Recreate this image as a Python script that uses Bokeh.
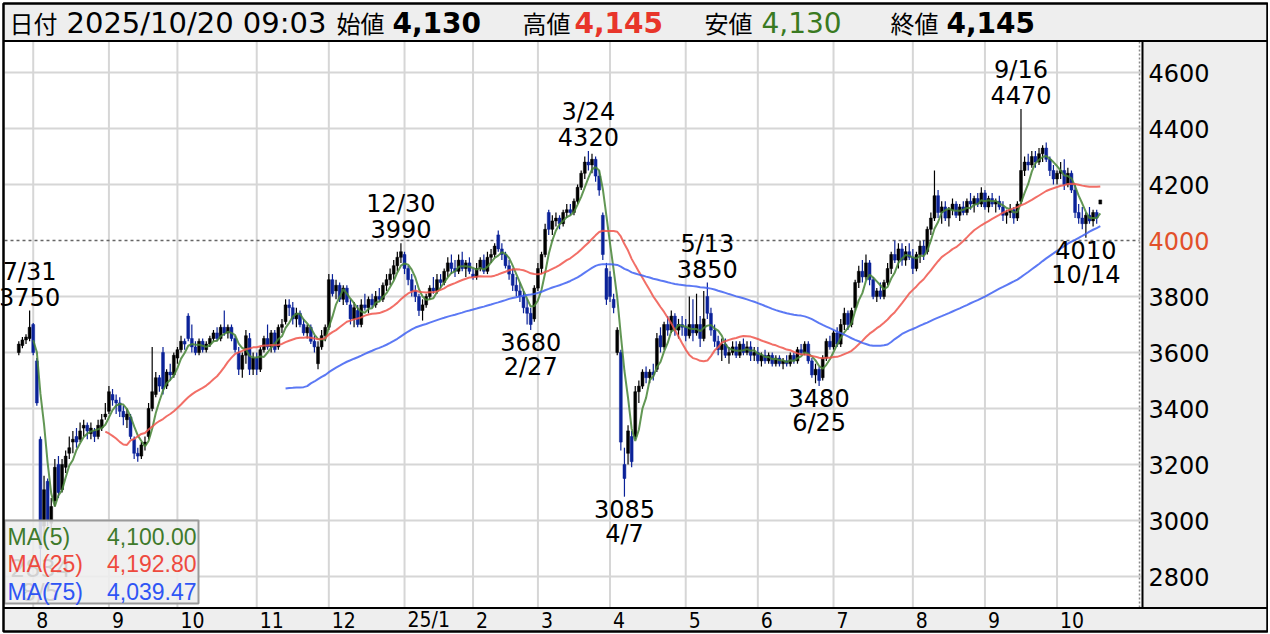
import pandas as pd
from bokeh.plotting import figure
from bokeh.models import Range1d, ColumnDataSource
from bokeh.core.properties import value
from bokeh.embed import file_html
from bokeh.resources import INLINE

# ---------------- data ----------------
START, END = "2024-07-26", "2025-10-20"
HOLIDAYS = ["2024-08-12", "2024-09-16", "2024-09-23", "2024-10-14", "2024-11-04",
            "2024-12-31", "2025-01-01", "2025-01-02", "2025-01-03", "2025-01-13",
            "2025-02-11", "2025-02-24", "2025-03-20", "2025-04-29", "2025-05-05",
            "2025-05-06", "2025-07-21", "2025-08-11", "2025-09-15", "2025-09-23",
            "2025-10-13"]

OPEN = [
    3600, 3625, 3645, 3650, 3700, 3570, 3290, 2980, 3140, 2990,
    3070, 3200, 3110, 3190, 3240, 3280, 3300, 3290, 3330, 3340,
    3310, 3320, 3300, 3330, 3370, 3390, 3450, 3430, 3420, 3390,
    3360, 3370, 3290, 3240, 3230, 3270, 3300, 3400, 3450, 3510,
    3600, 3480, 3530, 3520, 3580, 3610, 3640, 3730, 3650, 3620,
    3600, 3640, 3610, 3630, 3650, 3670, 3650, 3690, 3670, 3690,
    3650, 3600, 3540, 3590, 3650, 3540, 3580, 3540, 3610, 3650,
    3620, 3670, 3620, 3690, 3710, 3770, 3760, 3720, 3740, 3700,
    3670, 3690, 3640, 3560, 3620, 3660, 3690, 3860, 3820, 3840,
    3790, 3830, 3770, 3720, 3750, 3700, 3770, 3760, 3790, 3770,
    3800, 3790, 3840, 3860, 3880, 3910, 3940, 3950, 3900, 3860,
    3820, 3800, 3750, 3770, 3800, 3830, 3820, 3860, 3850, 3890,
    3920, 3900, 3890, 3930, 3900, 3920, 3880, 3870, 3900, 3930,
    3890, 3940, 3950, 4020, 3970, 3950, 3910, 3880, 3840, 3820,
    3800, 3760, 3740, 3720, 3830, 3900, 3950, 4100, 4040, 4070,
    4080, 4060, 4100, 4110, 4100, 4140, 4190, 4240, 4280, 4270,
    4290, 4230, 4090, 3900, 3870, 3790, 3600, 3600, 3200, 3240,
    3300, 3300, 3460, 3480, 3530, 3510, 3530, 3540, 3660, 3620,
    3700, 3680, 3730, 3680, 3700, 3690, 3660, 3700, 3670, 3700,
    3650, 3800, 3740, 3680, 3640, 3610, 3630, 3590, 3600, 3620,
    3590, 3630, 3600, 3620, 3590, 3600, 3570, 3590, 3570, 3590,
    3560, 3580, 3560, 3570, 3560, 3590, 3570, 3610, 3600, 3630,
    3570, 3520, 3540, 3510, 3580, 3640, 3620, 3670, 3630, 3700,
    3740, 3700, 3760, 3850, 3890, 3870, 3920, 3860, 3800, 3820,
    3800, 3850, 3900, 3950, 3930, 3970, 3930, 3960, 3940, 3900,
    3950, 3980, 3960, 4040, 4080, 4160, 4100, 4120, 4080, 4110,
    4130, 4090, 4120, 4100, 4140, 4130, 4150, 4130, 4170, 4120,
    4150, 4130, 4140, 4120, 4090, 4100, 4110, 4080, 4140, 4250,
    4280, 4270, 4300, 4280, 4310, 4330, 4290, 4250, 4220, 4240,
    4250, 4200, 4240, 4180, 4100, 4080, 4060, 4090, 4070, 4100,
    4130]
HIGH = [
    3640, 3655, 3665, 3750, 3705, 3580, 3300, 3160, 3150, 3080,
    3220, 3230, 3220, 3250, 3300, 3320, 3330, 3350, 3360, 3350,
    3350, 3330, 3360, 3380, 3420, 3480, 3470, 3450, 3440, 3410,
    3400, 3380, 3300, 3260, 3280, 3300, 3420, 3620, 3530, 3520,
    3620, 3540, 3560, 3600, 3620, 3660, 3650, 3740, 3700, 3640,
    3650, 3650, 3640, 3660, 3680, 3690, 3700, 3750, 3700, 3700,
    3660, 3620, 3600, 3680, 3670, 3600, 3600, 3620, 3660, 3700,
    3680, 3680, 3700, 3720, 3790, 3790, 3780, 3760, 3750, 3720,
    3700, 3700, 3660, 3640, 3680, 3700, 3880, 3880, 3860, 3850,
    3840, 3840, 3790, 3780, 3770, 3790, 3810, 3800, 3810, 3820,
    3830, 3850, 3880, 3900, 3930, 3960, 3990, 3960, 3910, 3880,
    3840, 3810, 3790, 3810, 3840, 3870, 3880, 3880, 3900, 3940,
    3950, 3930, 3950, 3960, 3930, 3940, 3900, 3920, 3940, 3950,
    3960, 3970, 3990, 4036, 3990, 3960, 3930, 3900, 3870, 3850,
    3820, 3790, 3760, 3840, 3920, 3960, 4060, 4110, 4090, 4100,
    4090, 4110, 4130, 4130, 4150, 4200, 4250, 4300, 4320, 4310,
    4300, 4250, 4100, 3920, 3890, 3810, 3690, 3610, 3260, 3340,
    3320, 3480, 3500, 3540, 3550, 3540, 3560, 3670, 3690, 3710,
    3730, 3750, 3740, 3720, 3730, 3720, 3800, 3790, 3810, 3730,
    3820, 3850, 3760, 3700, 3660, 3650, 3650, 3620, 3640, 3640,
    3640, 3650, 3640, 3640, 3620, 3620, 3600, 3610, 3600, 3600,
    3590, 3590, 3580, 3590, 3600, 3600, 3620, 3630, 3640, 3640,
    3580, 3560, 3550, 3590, 3650, 3660, 3680, 3690, 3720, 3760,
    3750, 3760, 3860, 3910, 3930, 3950, 3930, 3870, 3830, 3850,
    3860, 3920, 3960, 4000, 3990, 3990, 3980, 3990, 3970, 3960,
    4000, 4000, 4050, 4100, 4250, 4180, 4140, 4140, 4120, 4150,
    4140, 4130, 4140, 4150, 4170, 4160, 4170, 4190, 4180, 4160,
    4170, 4150, 4160, 4140, 4110, 4130, 4120, 4140, 4470, 4300,
    4310, 4320, 4320, 4330, 4340, 4350, 4300, 4270, 4250, 4280,
    4290, 4260, 4250, 4200, 4130, 4120, 4100, 4120, 4110, 4110,
    4145]
LOW = [
    3590, 3615, 3630, 3640, 3590, 3410, 2834, 2950, 2980, 2960,
    3050, 3080, 3100, 3170, 3220, 3240, 3260, 3280, 3300, 3290,
    3290, 3280, 3290, 3320, 3360, 3380, 3410, 3380, 3370, 3340,
    3330, 3290, 3220, 3210, 3220, 3250, 3290, 3390, 3440, 3460,
    3450, 3470, 3500, 3510, 3560, 3600, 3610, 3640, 3600, 3590,
    3590, 3600, 3600, 3620, 3640, 3640, 3640, 3660, 3650, 3640,
    3600, 3520, 3510, 3560, 3520, 3520, 3520, 3530, 3600, 3610,
    3600, 3600, 3610, 3670, 3700, 3730, 3700, 3690, 3690, 3660,
    3650, 3630, 3600, 3540, 3610, 3640, 3680, 3800, 3790, 3780,
    3770, 3770, 3700, 3690, 3690, 3690, 3750, 3740, 3760, 3760,
    3780, 3780, 3820, 3840, 3860, 3890, 3920, 3880, 3840, 3800,
    3780, 3730, 3714, 3760, 3790, 3810, 3810, 3830, 3840, 3870,
    3880, 3870, 3880, 3890, 3870, 3880, 3860, 3860, 3890, 3880,
    3880, 3920, 3940, 3960, 3930, 3900, 3860, 3820, 3800, 3780,
    3740, 3700, 3680, 3710, 3820, 3880, 3940, 4020, 4020, 4050,
    4040, 4050, 4080, 4090, 4090, 4130, 4180, 4220, 4250, 4240,
    4210, 4160, 3930, 3770, 3780, 3740, 3590, 3250, 3085, 3200,
    3190, 3290, 3420, 3470, 3490, 3490, 3500, 3530, 3600, 3610,
    3660, 3670, 3660, 3650, 3660, 3640, 3650, 3640, 3660, 3620,
    3640, 3720, 3660, 3620, 3590, 3570, 3580, 3560, 3590, 3580,
    3580, 3590, 3590, 3570, 3570, 3560, 3550, 3560, 3560, 3550,
    3550, 3550, 3540, 3550, 3550, 3560, 3560, 3590, 3590, 3560,
    3510, 3490, 3480, 3500, 3570, 3610, 3610, 3620, 3620, 3680,
    3680, 3690, 3750, 3830, 3850, 3860, 3840, 3790, 3780, 3790,
    3790, 3840, 3880, 3920, 3900, 3910, 3910, 3930, 3880, 3890,
    3920, 3930, 3950, 4020, 4070, 4080, 4060, 4070, 4050, 4090,
    4080, 4070, 4090, 4090, 4110, 4100, 4120, 4120, 4110, 4100,
    4120, 4100, 4110, 4070, 4060, 4080, 4060, 4070, 4130, 4230,
    4250, 4260, 4260, 4270, 4280, 4280, 4230, 4200, 4200, 4220,
    4180, 4190, 4170, 4080, 4060, 4040, 4010, 4060, 4050, 4060,
    4130]
CLOSE = [
    3630, 3645, 3655, 3690, 3600, 3420, 2900, 3110, 3000, 3050,
    3190, 3100, 3200, 3230, 3260, 3290, 3280, 3320, 3340, 3320,
    3330, 3300, 3340, 3360, 3380, 3460, 3430, 3420, 3390, 3370,
    3380, 3300, 3240, 3230, 3270, 3280, 3400, 3460, 3510, 3480,
    3470, 3530, 3520, 3590, 3610, 3640, 3630, 3650, 3620, 3600,
    3640, 3610, 3630, 3650, 3670, 3650, 3690, 3670, 3690, 3650,
    3610, 3540, 3590, 3660, 3540, 3580, 3540, 3610, 3650, 3620,
    3670, 3610, 3690, 3700, 3770, 3760, 3720, 3740, 3700, 3670,
    3690, 3640, 3620, 3620, 3660, 3690, 3860, 3810, 3840, 3790,
    3830, 3780, 3720, 3760, 3700, 3770, 3760, 3790, 3770, 3800,
    3790, 3840, 3860, 3880, 3910, 3940, 3960, 3900, 3860, 3820,
    3800, 3750, 3770, 3800, 3830, 3820, 3860, 3850, 3890, 3920,
    3900, 3890, 3930, 3900, 3920, 3890, 3870, 3900, 3930, 3890,
    3940, 3950, 3980, 3970, 3950, 3910, 3880, 3840, 3820, 3800,
    3760, 3740, 3700, 3830, 3900, 3950, 4040, 4040, 4070, 4080,
    4060, 4100, 4110, 4100, 4140, 4190, 4240, 4280, 4270, 4290,
    4230, 4180, 3950, 3790, 3800, 3760, 3680, 3280, 3150, 3320,
    3210, 3460, 3480, 3530, 3510, 3530, 3520, 3650, 3620, 3700,
    3680, 3730, 3680, 3700, 3690, 3660, 3700, 3670, 3700, 3650,
    3720, 3740, 3680, 3640, 3610, 3630, 3590, 3600, 3620, 3590,
    3630, 3600, 3620, 3590, 3600, 3570, 3590, 3570, 3590, 3560,
    3580, 3560, 3570, 3560, 3590, 3570, 3610, 3600, 3630, 3570,
    3520, 3540, 3500, 3580, 3640, 3620, 3670, 3630, 3700, 3740,
    3700, 3750, 3850, 3890, 3870, 3920, 3860, 3800, 3820, 3800,
    3850, 3900, 3950, 3930, 3970, 3930, 3960, 3940, 3900, 3950,
    3980, 3950, 4040, 4080, 4160, 4100, 4120, 4080, 4110, 4130,
    4090, 4120, 4100, 4140, 4130, 4150, 4130, 4170, 4120, 4150,
    4130, 4140, 4120, 4090, 4100, 4110, 4080, 4130, 4250, 4280,
    4270, 4300, 4280, 4310, 4330, 4290, 4250, 4220, 4240, 4250,
    4200, 4240, 4180, 4100, 4080, 4060, 4090, 4070, 4100, 4080,
    4145]

MONTH_LABELS = ["8", "9", "10", "11", "12", "25/1", "2", "3", "4", "5", "6", "7", "8", "9", "10"]
Y_TICKS = [2800, 3000, 3200, 3400, 3600, 3800, 4000, 4200, 4400, 4600]
REF_PRICE = 4000
HIGH_MARK_DATES = ["2024-07-31", "2024-12-30", "2025-03-24", "2025-05-13", "2025-09-16"]
HIGH_MARK_VALUES = [3750, 3990, 4320, 3850, 4470]
LOW_MARK_DATES = ["2024-08-05", "2025-02-27", "2025-04-07", "2025-06-25", "2025-10-14"]
LOW_MARK_VALUES = [2834, 3680, 3085, 3480, 4010]
MA_PERIODS = [5, 25, 75]
MA_LEGEND_VALUES = ["4,100.00", "4,192.80", "4,039.47"]
HEADER_DATE = "2025/10/20 09:03"
HEADER_NAMES = ["始値", "高値", "安値", "終値"]
HEADER_OHLC = ["4,130", "4,145", "4,130", "4,145"]

# ---------------- derived ----------------
dates = [d for d in pd.bdate_range(START, END) if d.strftime("%Y-%m-%d") not in HOLIDAYS]
n = len(dates)
assert n == len(OPEN) == len(HIGH) == len(LOW) == len(CLOSE), (n, len(OPEN), len(HIGH), len(LOW), len(CLOSE))
date_idx = {d.strftime("%Y-%m-%d"): i for i, d in enumerate(dates)}
month_starts = [i for i in range(1, n) if dates[i].month != dates[i - 1].month]

UP, DOWN = "#000000", "#0b2299"
idx = list(range(n))
colors = [UP if c >= o else DOWN for o, c in zip(OPEN, CLOSE)]
src = ColumnDataSource(dict(
    x=idx, h=HIGH, l=LOW, col=colors,
    top=[max(o, c) for o, c in zip(OPEN, CLOSE)],
    bot=[min(o, c) for o, c in zip(OPEN, CLOSE)],
))
close_s = pd.Series(CLOSE, dtype=float)
ma = {per: close_s.rolling(per).mean() for per in MA_PERIODS}

# ---------------- layout: page pixels -> data ----------------
W, H = 1268, 633
X0, DXP = 18.3, 3.605                   # first candle centre (px), px per candle
YREF_PX, PXU = 240, 0.28                # y of REF_PRICE, px per price unit
BL, BR, BT, BB = 3, 1267, 3, 631        # outer box
PL, PR, PT, PB = 4, 1141, 41, 607       # price panel


def dx(px):
    return (px - X0) / DXP


def dy(py):
    return REF_PRICE + (YREF_PX - py) / PXU


def py_of(v):
    return YREF_PX - (v - REF_PRICE) * PXU


p = figure(width=W, height=H, x_range=Range1d(dx(0), dx(W)), y_range=Range1d(dy(H), dy(0)),
           x_axis_location=None, y_axis_location=None, output_backend="svg",
           toolbar_location=None, min_border=0, background_fill_color="white",
           border_fill_color="white", outline_line_color=None, title=None)
p.xgrid.visible = False
p.ygrid.visible = False

# panels
p.quad(left=[dx(BL)], right=[dx(BR)], top=[dy(BT)], bottom=[dy(BB)],
       fill_color="#eeeeee", line_color=None)
p.quad(left=[dx(PL)], right=[dx(PR)], top=[dy(PT)], bottom=[dy(PB)],
       fill_color="white", line_color=None)

# grid lines
GRID = "#d6d6d6"
p.segment(x0=month_starts, x1=month_starts, y0=[dy(PT)] * len(month_starts),
          y1=[dy(PB)] * len(month_starts), line_color=GRID, line_width=2)
gy = [t for t in Y_TICKS if t != REF_PRICE]
p.segment(x0=[dx(PL)] * len(gy), x1=[dx(PR)] * len(gy), y0=gy, y1=gy,
          line_color=GRID, line_width=2)

# reference lines
p.segment(x0=[dx(PL)], x1=[dx(1139)], y0=[REF_PRICE], y1=[REF_PRICE],
          line_color="#666666", line_dash="3 3", line_width=1.5)
p.segment(x0=[dx(1139)], x1=[dx(1139)], y0=[dy(PT)], y1=[dy(PB)],
          line_color="#888888", line_dash="2 2", line_width=1.5)

# candles
p.segment(x0="x", y0="h", x1="x", y1="l", color="col", line_width=1.2, source=src)
p.vbar(x="x", width=0.8, top="top", bottom="bot", fill_color="col", line_color="col",
       line_width=0.5, source=src)

# moving averages
ma_colors = ["#468536", "#f0564c", "#3f62f2"]
for per, colr in zip(MA_PERIODS, ma_colors):
    p.line(idx, ma[per].tolist(), line_color=colr, line_width=2, line_alpha=0.85)

# high / low annotations (low labels are kept inside the price panel)
TF = value("DejaVu Sans")


def md(d):
    return f"{int(d[5:7])}/{int(d[8:10])}"


def lab(xs, ys, texts, offs):
    p.text(xs, ys, text=texts, y_offset=offs, text_align="center", text_baseline="middle",
           text_font=TF, text_font_size="24px", text_color="black")


hx = [date_idx[d] for d in HIGH_MARK_DATES]
lab(hx, HIGH_MARK_VALUES, [str(v) for v in HIGH_MARK_VALUES], [-14] * len(hx))
lab(hx, HIGH_MARK_VALUES, [md(d) for d in HIGH_MARK_DATES], [-39] * len(hx))
lx = [date_idx[d] for d in LOW_MARK_DATES]
date_off = [min(37, (PB - 15) - py_of(v)) for v in LOW_MARK_VALUES]
lab(lx, LOW_MARK_VALUES, [str(v) for v in LOW_MARK_VALUES], [o - 25 for o in date_off])
lab(lx, LOW_MARK_VALUES, [md(d) for d in LOW_MARK_DATES], date_off)

# MA legend box
p.quad(left=[dx(PL)], right=[dx(198)], top=[dy(520)], bottom=[dy(603)],
       fill_color="#eeeeee", fill_alpha=0.88, line_color="#9a9a9a", line_width=2)
leg_y = [536, 563, 591]
leg_colors = ["#3f7a2c", "#ee4a3e", "#2f55f5"]
LF = value("Liberation Sans")
p.text([dx(7)] * 3, [dy(v) for v in leg_y], text=[f"MA({per})" for per in MA_PERIODS],
       text_color=leg_colors, text_font=LF, text_font_size="23px",
       text_baseline="middle", text_align="left")
p.text([dx(196)] * 3, [dy(v) for v in leg_y], text=MA_LEGEND_VALUES,
       text_color=leg_colors, text_font=LF, text_font_size="23px",
       text_baseline="middle", text_align="right")

# frame lines
p.segment(x0=[dx(BL), dx(BL), dx(1142)], x1=[dx(BR), dx(BR), dx(1142)],
          y0=[dy(40.5), dy(607.5), dy(PT)], y1=[dy(40.5), dy(607.5), dy(PB)],
          line_color="black", line_width=2)
p.quad(left=[dx(BL)], right=[dx(BR)], top=[dy(BT)], bottom=[dy(BB)],
       fill_color=None, line_color="black", line_width=2.5)

# price axis labels (right)
p.text([dx(1148)] * len(Y_TICKS), Y_TICKS, text=[str(t) for t in Y_TICKS],
       text_color=["#e2502a" if t == REF_PRICE else "black" for t in Y_TICKS],
       text_font=TF, text_font_size="24px", text_baseline="middle", text_align="left")

# month axis labels (below), left-aligned just right of the month gridline
p.text([m + 3 / DXP for m in month_starts], [dy(619)] * len(month_starts), text=MONTH_LABELS,
       text_color="black", text_font=value("DejaVu Sans Condensed, Roboto, sans-serif"),
       text_font_size="21px", text_baseline="middle", text_align="left")

# header
JP = value("Noto Sans CJK JP")
header = [
    ("日付", 9, "black", JP, "24px", "normal"),
    (HEADER_DATE, 66, "black", TF, "29px", "normal"),
    (HEADER_NAMES[0], 336, "black", JP, "24px", "normal"),
    (HEADER_OHLC[0], 392, "black", TF, "28px", "bold"),
    (HEADER_NAMES[1], 522, "black", JP, "24px", "normal"),
    (HEADER_OHLC[1], 574, "#e8352a", TF, "28px", "bold"),
    (HEADER_NAMES[2], 704, "black", JP, "24px", "normal"),
    (HEADER_OHLC[2], 761, "#3a7a22", TF, "28px", "normal"),
    (HEADER_NAMES[3], 890, "black", JP, "24px", "normal"),
    (HEADER_OHLC[3], 946, "black", TF, "28px", "bold"),
]
for t, px, colr, font, size, style in header:
    p.text([dx(px)], [dy(22)], text=[t], text_color=colr, text_font=font,
           text_font_size=size, text_font_style=style, text_baseline="middle",
           text_align="left")

open("out.html", "w").write(file_html(p, INLINE))
